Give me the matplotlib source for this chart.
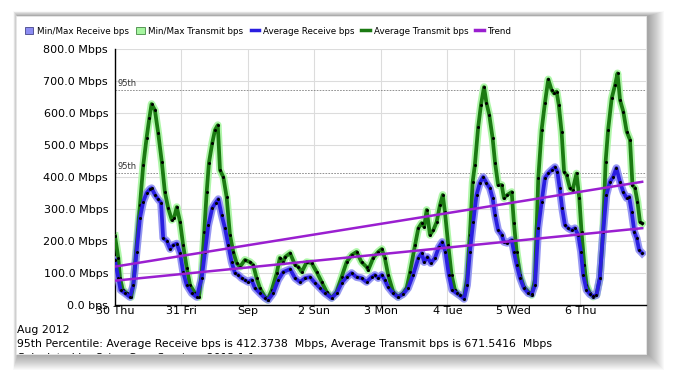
import numpy as np
import matplotlib
matplotlib.use("Agg")
import matplotlib.pyplot as plt
from matplotlib.patches import Rectangle
from matplotlib.lines import Line2D
from matplotlib.patches import Patch
from matplotlib.transforms import Bbox, TransformedBbox

# ---- data (hours since Aug 30 00:00, Mbps) ----
tx_hours = [0, 1.2, 1.8, 2.8, 4.2, 5.8, 6.6, 7.8, 9.0, 10.2, 11.4, 12.4, 13.2, 14.4, 15.6, 16.9,
            18.0, 19.2, 20.5, 21.3, 22.3, 23.5, 24.6, 25.9, 27.1, 28.9, 30.3, 31.3, 32.2, 33.1,
            33.9, 35.1, 36.1, 37.1, 37.9, 39.1, 40.3, 41.5, 42.7, 43.9, 45.1, 46.9, 48.7, 49.9,
            51.1, 52.3, 54.1, 55.1, 56.6, 58.4, 59.5, 60.7, 61.4, 63.2, 65.0, 66.2, 67.4, 69.2,
            71.0, 72.8, 74.6, 76.4, 78.2, 80.0, 81.8, 83.6, 85.4, 87.2, 89.0, 90.8, 91.4, 93.2,
            95.0, 96.3, 97.4, 98.6, 100.4, 102.2, 104.0, 105.3, 106.5, 108.3, 109.5, 110.7,
            111.6, 112.5, 113.7, 114.9, 116.1, 117.3, 118.3, 119.1, 120.3, 121.5, 122.7, 123.9,
            126.0, 127.1, 128.1, 129.1, 129.9, 131.1, 132.1, 133.2, 134.1, 135.1, 136.3, 137.2,
            138.3, 139.6, 140.4, 141.6, 143.2, 144.0, 145.0, 146.2, 147.6, 149.2, 150.4, 151.6,
            152.8, 154.0, 155.2, 156.4, 157.6, 158.5, 159.4, 160.2, 161.2, 162.1, 163.0, 164.2,
            165.2, 166.6, 167.6, 168.4, 169.4, 170.2, 171.4, 172.6, 173.8, 175.0, 176.2, 177.1,
            178.0, 179.3, 180.5, 181.4, 182.3, 183.5, 184.7, 185.9, 186.8, 187.7, 188.6, 189.5,
            190.3]
tx_avg = [215, 147, 84, 47, 37, 25, 62, 187, 312, 437, 522, 584, 628, 609, 537, 447,
          353, 303, 266, 272, 306, 259, 187, 116, 62, 37, 25, 103, 228, 353,
          444, 506, 547, 562, 422, 400, 337, 219, 166, 131, 119, 141, 134, 125,
          84, 53, 25, 16, 47, 100, 147, 134, 150, 162, 125, 119, 103, 134,
          131, 103, 72, 41, 22, 41, 87, 134, 156, 166, 134, 119, 109, 147,
          166, 175, 147, 94, 41, 25, 37, 53, 103, 187, 240, 256,
          244, 297, 219, 234, 259, 312, 344, 291, 187, 94, 47, 34,
          22, 84, 219, 384, 437, 556, 625, 681, 631, 594, 522, 444,
          375, 375, 334, 344, 353, 256, 166, 94, 56, 41, 31, 80,
          397, 547, 632, 705, 672, 661, 667, 625, 542, 417, 406, 365,
          359, 411, 334, 229, 125, 62, 36, 26, 31, 83, 229, 448,
          547, 646, 687, 724, 641, 604, 542, 516, 375, 365, 323, 260,
          255]

rx_hours = [0, 1.2, 2.0, 3.6, 5.4, 6.6, 7.8, 9.0, 10.2, 11.4, 12.6, 13.2, 14.4, 15.6, 16.6,
            17.4, 18.7, 19.9, 21.0, 22.3, 23.5, 24.6, 25.9, 27.7, 29.5, 31.3, 32.5, 33.7,
            35.1, 36.3, 37.3, 38.5, 39.7, 40.9, 42.1, 43.3, 44.5, 45.7, 46.9, 48.1, 49.3,
            50.5, 52.3, 54.1, 55.3, 57.1, 58.9, 60.7, 63.2, 65.0, 66.8, 68.6, 70.4, 72.2,
            74.0, 75.8, 78.2, 80.0, 81.8, 83.6, 85.4, 87.2, 89.0, 90.8, 92.6, 93.8, 95.0,
            96.3, 97.4, 98.6, 100.4, 102.2, 104.0, 105.8, 107.6, 109.5, 110.7, 111.6, 112.8,
            114.0, 115.5, 116.9, 118.1, 119.3, 120.5, 121.7, 123.3, 124.5, 126.0, 127.1,
            128.1, 129.3, 130.5, 131.7, 132.9, 134.1, 135.3, 136.3, 137.2, 138.3, 139.6,
            140.4, 141.6, 143.2, 144.0, 145.0, 146.2, 147.6, 149.2, 150.4, 151.6, 152.8,
            154.0, 155.2, 156.4, 157.6, 158.8, 159.7, 160.5, 161.4, 162.4, 163.6, 164.8,
            166.0, 167.2, 168.2, 169.0, 170.2, 171.4, 172.6, 173.8, 175.0, 176.2, 177.4,
            178.6, 179.8, 181.0, 182.3, 183.5, 184.7, 185.6, 186.5, 187.5, 188.3, 189.2,
            190.3]
rx_avg = [140, 84, 47, 37, 25, 62, 167, 272, 323, 350, 362, 365, 345, 330, 320,
          209, 200, 175, 187, 192, 162, 103, 62, 37, 25, 84, 166, 250,
          303, 319, 331, 281, 240, 187, 134, 100, 94, 84, 78, 72, 78,
          53, 37, 22, 16, 37, 78, 103, 112, 84, 72, 84, 87, 69,
          53, 37, 22, 37, 69, 87, 100, 87, 84, 72, 87, 94, 84,
          94, 78, 56, 37, 25, 34, 53, 94, 147, 162, 134, 150,
          131, 147, 181, 197, 166, 94, 47, 37, 30, 19, 62,
          166, 259, 344, 381, 400, 381, 365, 334, 281, 234, 219,
          197, 194, 203, 166, 125, 84, 53, 37, 34, 62, 240,
          322, 397, 412, 422, 431, 416, 366, 303, 250, 240, 234,
          240, 219, 166, 94, 47, 34, 28, 31, 84, 228, 344,
          384, 400, 428, 384, 353, 334, 338, 291, 228, 209, 172,
          162]

trend_hours = [0, 190.3]
tx_trend = [120, 385]
rx_trend = [76, 240]

pct95_rx = 412.3738
pct95_tx = 671.5416

day_ticks = [0, 24, 48, 72, 96, 120, 144, 168]
day_labels = ["30 Thu", "31 Fri", "Sep", "2 Sun", "3 Mon", "4 Tue", "5 Wed", "6 Thu"]
y_ticks = [0, 100, 200, 300, 400, 500, 600, 700, 800]
y_labels = ["0.0 bps"] + [f"{v:.1f} Mbps" for v in y_ticks[1:]]

# ---- colours ----
c_rx = "#2a1ee0"
c_tx = "#1b7a12"
c_rx_band = "#8c8cf2"
c_tx_band = "#a6f5a0"
c_trend = "#9a1fd0"

W, H = 677, 386
plt.rcParams["font.family"] = ["DejaVu Sans"]
fig = plt.figure(figsize=(W / 100, H / 100), dpi=100)
fig.patch.set_facecolor("white")

# panel with soft drop shadow
px0, py0, px1, py1 = 16, 16, 646, 354
def fx(x): return x / W
def fy(y): return 1 - y / H
for i in range(16, 0, -1):
    fig.patches.append(Rectangle((fx(px0 + 2 - i * 0.3), fy(py1 + i)),
                                 fx(px1 - px0 + i * 1.3), (py1 - py0 + i * 1.3) / H,
                                 transform=fig.transFigure, facecolor="black", alpha=0.022,
                                 edgecolor="none", zorder=0))
panel = Rectangle((fx(px0), fy(py1)), fx(px1 - px0), (py1 - py0) / H, transform=fig.transFigure,
                  facecolor="white", edgecolor="#e8e8e8", linewidth=0.6, zorder=1)
fig.patches.append(panel)

ax = fig.add_axes([fx(115), fy(305), fx(645.5 - 115), (305 - 49) / H])
ax.set_facecolor("none")
ax.set_zorder(2)

ax.set_xlim(0, 191.5)
ax.set_ylim(0, 800)
ax.set_xticks(day_ticks)
ax.set_xticklabels(day_labels)
ax.set_yticks(y_ticks)
ax.set_yticklabels(y_labels)
ax.tick_params(length=0, labelsize=8, pad=5)
ax.tick_params(axis="x", pad=1)
ax.grid(True, color="#dcdcdc", linewidth=0.8)
ax.set_axisbelow(True)
for s in ["top", "right"]:
    ax.spines[s].set_visible(False)
for s in ["left", "bottom"]:
    ax.spines[s].set_color("black")
    ax.spines[s].set_linewidth(1.0)

# 95th percentile lines
for v in [pct95_tx, pct95_rx]:
    ax.axhline(v, color="#808080", linestyle=(0, (2, 1.5)), linewidth=0.6, zorder=1)
    ax.text(0.8, v + 6, "95th", fontsize=6, color="#333333", va="bottom", ha="left")

# min/max bands as soft halos
ax.plot(tx_hours, tx_avg, color=c_tx_band, linewidth=5.5, alpha=0.9, zorder=2, solid_joinstyle="round")
ax.plot(rx_hours, rx_avg, color=c_rx_band, linewidth=5.5, alpha=0.9, zorder=3, solid_joinstyle="round")

# averages
ax.plot(tx_hours, tx_avg, color=c_tx, linewidth=2.7, zorder=4, marker="o", markersize=1.2,
        markerfacecolor="black", markeredgecolor="black", solid_joinstyle="round")
ax.plot(rx_hours, rx_avg, color=c_rx, linewidth=2.7, zorder=5, marker="o", markersize=1.2,
        markerfacecolor="black", markeredgecolor="black", solid_joinstyle="round")

# trends
ax.plot(trend_hours, tx_trend, color=c_trend, linewidth=1.8, zorder=6)
ax.plot(trend_hours, rx_trend, color=c_trend, linewidth=1.8, zorder=6)

# legend
handles = [
    Patch(facecolor=c_rx_band, edgecolor="#444488", linewidth=0.6, label="Min/Max Receive bps"),
    Patch(facecolor=c_tx_band, edgecolor="#448844", linewidth=0.6, label="Min/Max Transmit bps"),
    Line2D([], [], color=c_rx, linewidth=2.5, label="Average Receive bps"),
    Line2D([], [], color=c_tx, linewidth=2.5, label="Average Transmit bps"),
    Line2D([], [], color=c_trend, linewidth=2.5, label="Trend"),
]
fig.legend(handles=handles, loc="center left", bbox_to_anchor=(fx(25), fy(31)), ncol=5,
           frameon=False, fontsize=6.3, handlelength=0.95, handleheight=0.95, handletextpad=0.45,
           columnspacing=0.8, borderpad=0, borderaxespad=0)

# footer text
fig.text(fx(17), fy(330), "Aug 2012", fontsize=7.8, va="center", ha="left", zorder=3)
fig.text(fx(17), fy(344), "95th Percentile: Average Receive bps is 412.3738  Mbps, "
         "Average Transmit bps is 671.5416  Mbps", fontsize=7.8, va="center", ha="left", zorder=3)
t3 = fig.text(fx(17), fy(358), "Calculated by Orion Core Services 2012.1.1", fontsize=7.8,
              va="center", ha="left", zorder=3)
t3.set_clip_box(TransformedBbox(Bbox([[fx(px0), fy(py1)], [fx(px1), fy(py0)]]), fig.transFigure))
t3.set_clip_on(True)

fig.savefig("out.png", dpi=100, facecolor="white")
